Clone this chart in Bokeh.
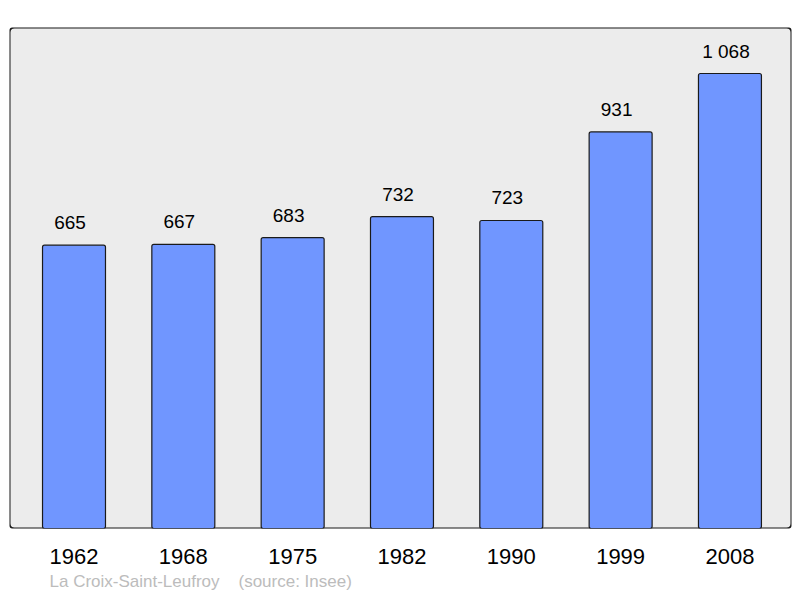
from bokeh.plotting import figure
from bokeh.models import (ColumnDataSource, Range1d, FixedTicker, LabelSet, Title,
                          BoxAnnotation, LinearAxis)
from bokeh.core.properties import value
from bokeh.embed import file_html
from bokeh.resources import INLINE

years = ["1962", "1968", "1975", "1982", "1990", "1999", "2008"]
population = [665, 667, 683, 732, 723, 931, 1068]
value_labels = ["665", "667", "683", "732", "723", "931", "1\u00a0068"]
footer_text = "La Croix-Saint-Leufroy\u00a0\u00a0\u00a0\u00a0(source: Insee)"

idx = list(range(len(years)))
src = ColumnDataSource(dict(x=idx, top=population, lab=value_labels))

p = figure(width=800, height=598, output_backend="svg", toolbar_location=None,
           x_range=Range1d(-0.59, 6.563), y_range=Range1d(0, 1176),
           x_axis_location=None, y_axis_location=None,
           min_border_left=9, min_border_right=9, min_border_top=27, min_border_bottom=70)
p.outline_line_color = None
p.background_fill_color = "white"
p.border_fill_color = "white"
p.xgrid.visible = False
p.ygrid.visible = False

bg = BoxAnnotation(fill_color="#ececec", fill_alpha=1, line_color="#1a1a1a", line_alpha=1,
                   line_width=2, border_radius=5, level="underlay")
p.add_layout(bg)

p.vbar(x="x", top="top", bottom=0, width=0.576, source=src,
       fill_color="#7096ff", line_color="#1a1a1a", line_width=1.2, border_radius=2)

labels = LabelSet(x="x", y="top", text="lab", source=src, text_align="center",
                  text_baseline="alphabetic", y_offset=16, x_offset=-4,
                  text_font=value("Liberation Sans"), text_font_size=value("19px"),
                  text_color=value("#000000"))
p.add_layout(labels)

ax = LinearAxis(ticker=FixedTicker(ticks=idx),
                major_label_overrides={i: y for i, y in zip(idx, years)})
ax.axis_line_color = None
ax.major_tick_line_color = None
ax.minor_tick_line_color = None
ax.major_label_text_font = "Liberation Sans"
ax.major_label_text_font_size = "22px"
ax.major_label_text_color = "#000000"
ax.major_label_standoff = 14
p.add_layout(ax, "below")

foot = Title(text=footer_text, align="left", offset=40, standoff=6,
             text_font="Liberation Sans", text_font_size="17px", text_color="#bcbcbc",
             text_font_style="normal")
p.add_layout(foot, "below")

open("out.html", "w").write(file_html(p, INLINE))
